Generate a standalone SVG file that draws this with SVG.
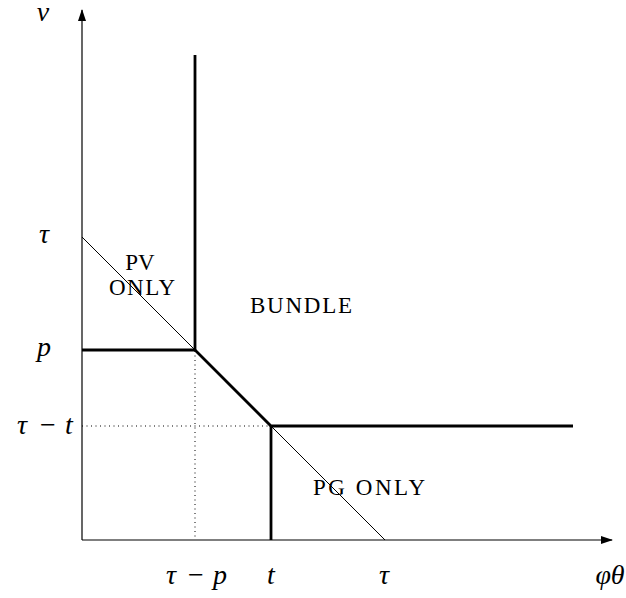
<svg xmlns="http://www.w3.org/2000/svg" width="626" height="598" viewBox="0 0 626 598">
<style>
.axis{stroke:#000;stroke-width:1.2;fill:none}
.thin{stroke:#000;stroke-width:1;fill:none}
.thick{stroke:#000;stroke-width:2.8;fill:none}
.dot{stroke:#000;stroke-width:1;fill:none;stroke-dasharray:1 3.5}
.math{font-family:"Liberation Serif","DejaVu Serif",serif;font-style:italic;font-size:28px;fill:#000;text-anchor:middle}
.op{font-style:normal}
.lbl{font-family:"Liberation Serif","DejaVu Serif",serif;font-size:23px;fill:#000;text-anchor:middle}
</style>
<defs>
<marker id="arr" markerWidth="12" markerHeight="8" refX="11" refY="4" orient="auto" markerUnits="userSpaceOnUse">
<path d="M0,0 L12,4 L0,8 Z" fill="#000"/>
</marker>
</defs>
<rect width="626" height="598" fill="#fff"/>
<g id="connectors">
<line class="axis" x1="82" y1="540" x2="82" y2="10" marker-end="url(#arr)"/>
<line class="axis" x1="82" y1="540" x2="612" y2="540" marker-end="url(#arr)"/>
<line class="thin" x1="82" y1="237" x2="385" y2="540"/>
<line class="dot" x1="195" y1="351" x2="195" y2="540"/>
<line class="dot" x1="82" y1="426" x2="271" y2="426"/>
<polyline class="thick" points="82,350 195,350 195,55"/>
<polyline class="thick" points="195,350 271,426 573,426"/>
<line class="thick" x1="271" y1="426" x2="271" y2="540"/>
</g>
<g id="axis-labels">
<text class="math" x="43" y="21" font-size="24">v</text>
<text class="math" x="44" y="243">τ</text>
<text class="math" x="44" y="356">p</text>
<text class="math" y="434"><tspan x="22">τ</tspan><tspan x="48" class="op">−</tspan><tspan x="69">t</tspan></text>
<text class="math" y="584"><tspan x="171">τ</tspan><tspan x="196" class="op">−</tspan><tspan x="220">p</tspan></text>
<text class="math" x="271" y="584">t</text>
<text class="math" x="384" y="584">τ</text>
<text class="math" x="610" y="584">φθ</text>
</g>
<g id="pv-only">
<text class="lbl" x="140" y="270">PV</text>
<text class="lbl" x="142" y="295" textLength="66" lengthAdjust="spacing">ONLY</text>
</g>
<g id="bundle">
<text class="lbl" x="301" y="313" textLength="102" lengthAdjust="spacing">BUNDLE</text>
</g>
<g id="pg-only">
<text class="lbl" x="369" y="495" textLength="112" lengthAdjust="spacing">PG ONLY</text>
</g>
</svg>
